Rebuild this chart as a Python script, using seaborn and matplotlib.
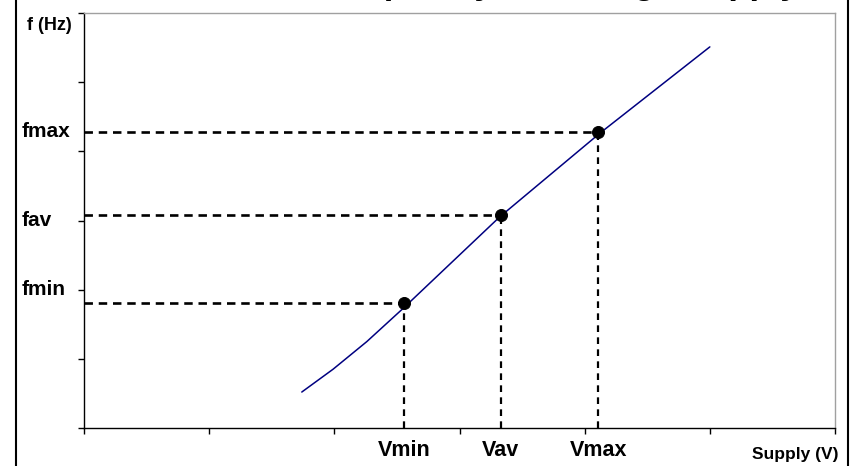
import matplotlib
matplotlib.use("Agg")
import matplotlib.pyplot as plt
import seaborn as sns
import pandas as pd
from matplotlib.lines import Line2D

# curve (supply voltage vs frequency, arbitrary units)
curve_v = [1.74, 1.99, 2.26, 2.55, 3.32, 4.12, 5.00]
curve_f = [0.52, 0.85, 1.25, 1.73, 3.05, 4.26, 5.51]

# operating points
point_names_v = ["Vmin", "Vav", "Vmax"]
point_names_f = ["fmin", "fav", "fmax"]
point_v = [2.56, 3.33, 4.11]
point_f = [1.81, 3.08, 4.28]
label_f = [2.0, 3.0, 4.28]

curve = pd.DataFrame({"v": curve_v, "f": curve_f})
points = pd.DataFrame({"v": point_v, "f": point_f})

sns.set_style("white")
plt.rcParams["font.family"] = ["Liberation Sans", "DejaVu Sans"]
plt.rcParams["text.color"] = "black"

fig = plt.figure(figsize=(8.51, 4.66), dpi=100)
ax = fig.add_axes([84 / 851, 1 - 428 / 466, (835 - 84) / 851, (428 - 13) / 466])

# guide lines
for v, f in zip(point_v, point_f):
    ax.plot([0, v], [f, f], color="black", lw=1.9, dashes=(3.2, 2.2), zorder=2)
    ax.plot([v, v], [0, f], color="black", lw=1.6, dashes=(3.0, 2.4), zorder=2)

sns.lineplot(data=curve, x="v", y="f", color="#000080", lw=1.1, sort=False, ax=ax, zorder=3)
sns.scatterplot(data=points, x="v", y="f", color="black", s=75, edgecolor="black", ax=ax, zorder=4)

ax.set_xlim(0, 6)
ax.set_ylim(0, 6)
ax.set_xticks(range(7))
ax.set_yticks(range(7))
ax.set_xticklabels([])
ax.set_yticklabels([])
ax.set_xlabel("")
ax.set_ylabel("")
ax.tick_params(axis="both", direction="out", length=4.5, width=1, color="black",
               bottom=True, left=True)
for side in ["left", "bottom"]:
    ax.spines[side].set_color("black")
    ax.spines[side].set_linewidth(1)
for side in ["top", "right"]:
    ax.spines[side].set_color("#a0a0a0")
    ax.spines[side].set_linewidth(1)

# labels
for name, f in zip(point_names_f, label_f):
    ax.text(-0.495, f, name, fontsize=15, fontweight="bold", ha="left", va="center",
            clip_on=False)
for name, v in zip(point_names_v, point_v):
    ax.text(v, -0.33, name, fontsize=15.5, fontweight="bold", ha="center", va="center",
            clip_on=False)
fig.text(27 / 851, 1 - 25 / 466, "f (Hz)", fontsize=13, fontweight="bold", ha="left", va="center")
fig.text(838 / 851, 1 - 455 / 466, "Supply (V)", fontsize=12.5, fontweight="bold",
         ha="right", va="center")

# title clipped at the top edge, only descenders show
fig.text(800 / 851, 1 + 6.5 / 466, "Frequency vs Voltage Supply", fontsize=25,
         fontweight="bold", ha="right", va="baseline")

# outer frame lines
fig.add_artist(Line2D([16 / 851, 16 / 851], [0, 1], color="black", lw=1.5, transform=fig.transFigure))
fig.add_artist(Line2D([848 / 851, 848 / 851], [0, 1], color="black", lw=1.5, transform=fig.transFigure))

fig.savefig("out.png", dpi=100)
